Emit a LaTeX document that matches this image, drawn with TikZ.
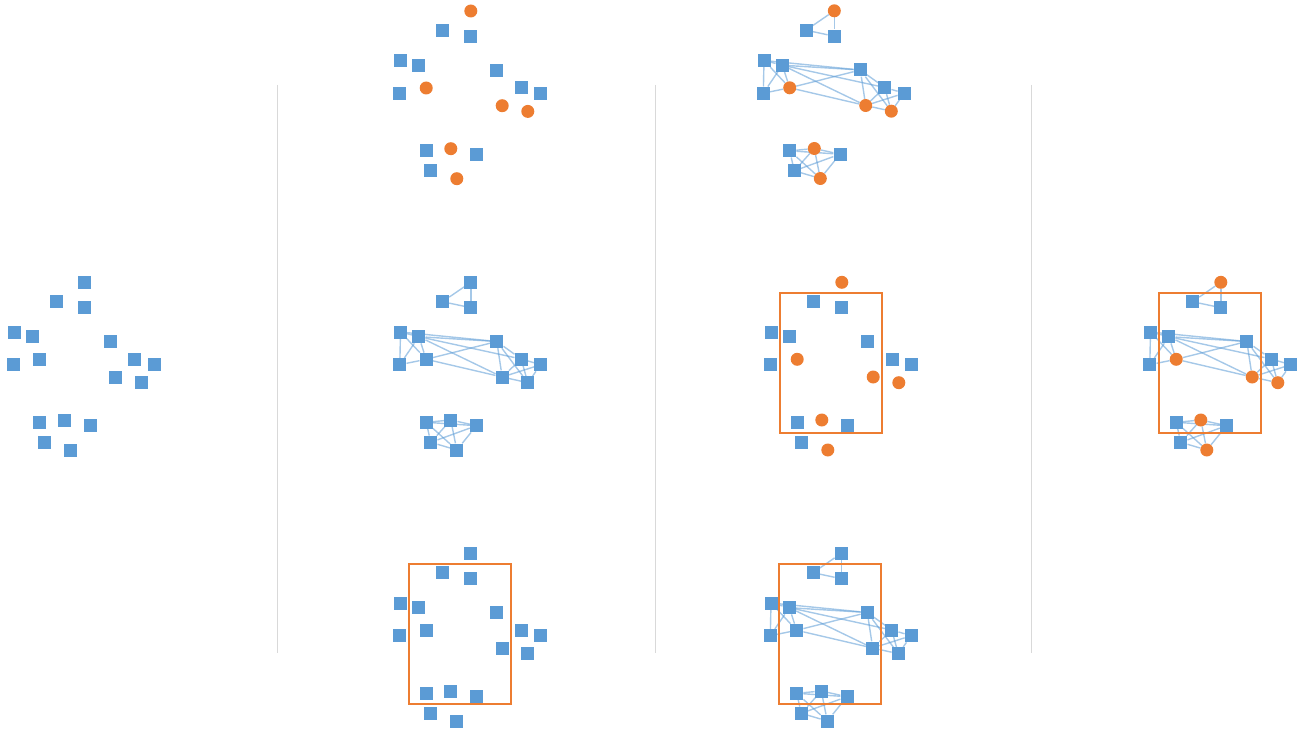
\documentclass[tikz,border=0pt]{standalone}
\usepackage{xcolor}
\usepackage{tikz}
\usetikzlibrary{backgrounds}
\definecolor{nodeblue}{HTML}{5B9BD5}
\definecolor{nodeorange}{HTML}{ED7D31}
\definecolor{sepgray}{HTML}{D9D9D9}

\tikzset{
  boxnode/.style={rectangle, fill=nodeblue, minimum size=13pt, inner sep=0pt},
  dotnode/.style={circle, fill=nodeorange, minimum size=13pt, inner sep=0pt},
  linkline/.style={draw=nodeblue, line width=1.4pt, draw opacity=0.55},
  framebox/.style={draw=nodeorange, line width=2pt},
  sepline/.style={draw=sepgray, line width=0.8pt}
}

% Grafo base: prefijo, desplazamiento x, desplazamiento y, estilo de los nodos marcados
\newcommand{\grafo}[4]{%
  \begin{scope}[shift={(#2,#3)}, kindb/.style=boxnode, kindd/.style=#4]
    \foreach \n/\x/\y/\t in {A/84.3/282.3/d, B/56/301.7/b, C/84.3/307.7/b,
        D/14/332/b, E/32.3/336.7/b, F/13.3/364.7/b, G/39.7/359.3/d,
        H/110.3/341.5/b, I/134.7/359/b, J/154.3/364.7/b, K/115.7/377/d, L/141.3/382.7/d,
        M/39.7/422.3/b, N/64.3/420/d, O/90/425.7/b, P/44.3/442.3/b, Q/70.3/450/d}
      \node[kind\t] (#1\n) at (\x,\y) {};
  \end{scope}}

% Enlaces del grafo (debajo de los nodos)
\newcommand{\enlaces}[1]{%
  \begin{pgfonlayer}{background}
    \foreach \a/\b in {A/B, A/C, B/C,
        D/E, D/F, D/G, E/F, E/G, F/G, D/H, E/H, E/I, E/K, G/H, G/K,
        H/I, H/K, H/L, I/J, I/K, I/L, J/K, J/L, K/L,
        M/N, M/O, M/P, M/Q, N/O, N/P, N/Q, O/Q, P/Q, P/O}
      \draw[linkline] (#1\a) -- (#1\b);
  \end{pgfonlayer}}

% Recuadro de seleccion
\newcommand{\recuadro}[2]{%
  \draw[framebox, shift={(#1,#2)}] (22.3,292.7) rectangle (124,433);}

\begin{document}
\begin{tikzpicture}[x=1pt, y=-1pt]
  \useasboundingbox (0,0) rectangle (1298,730);

  % Separadores
  \draw[sepline] (277,85) -- (277,653);
  \draw[sepline] (655,85) -- (655,653);
  \draw[sepline] (1031,85) -- (1031,653);

  % Columna 1
  \grafo{a}{0}{0}{boxnode}

  % Columna 2
  \grafo{b}{386.5}{-271.3}{dotnode}
  \grafo{c}{386.5}{0}{boxnode}
  \enlaces{c}
  \grafo{d}{386.5}{271}{boxnode}
  \recuadro{386.5}{271}

  % Columna 3
  \grafo{e}{750}{-271.5}{dotnode}
  \enlaces{e}
  \grafo{f}{757.5}{0}{dotnode}
  \recuadro{757.5}{0}
  \grafo{g}{757}{271}{boxnode}
  \enlaces{g}
  \recuadro{757}{271}

  % Columna 4
  \grafo{h}{1136.5}{0}{dotnode}
  \enlaces{h}
  \recuadro{1136.5}{0}
\end{tikzpicture}
\end{document}
